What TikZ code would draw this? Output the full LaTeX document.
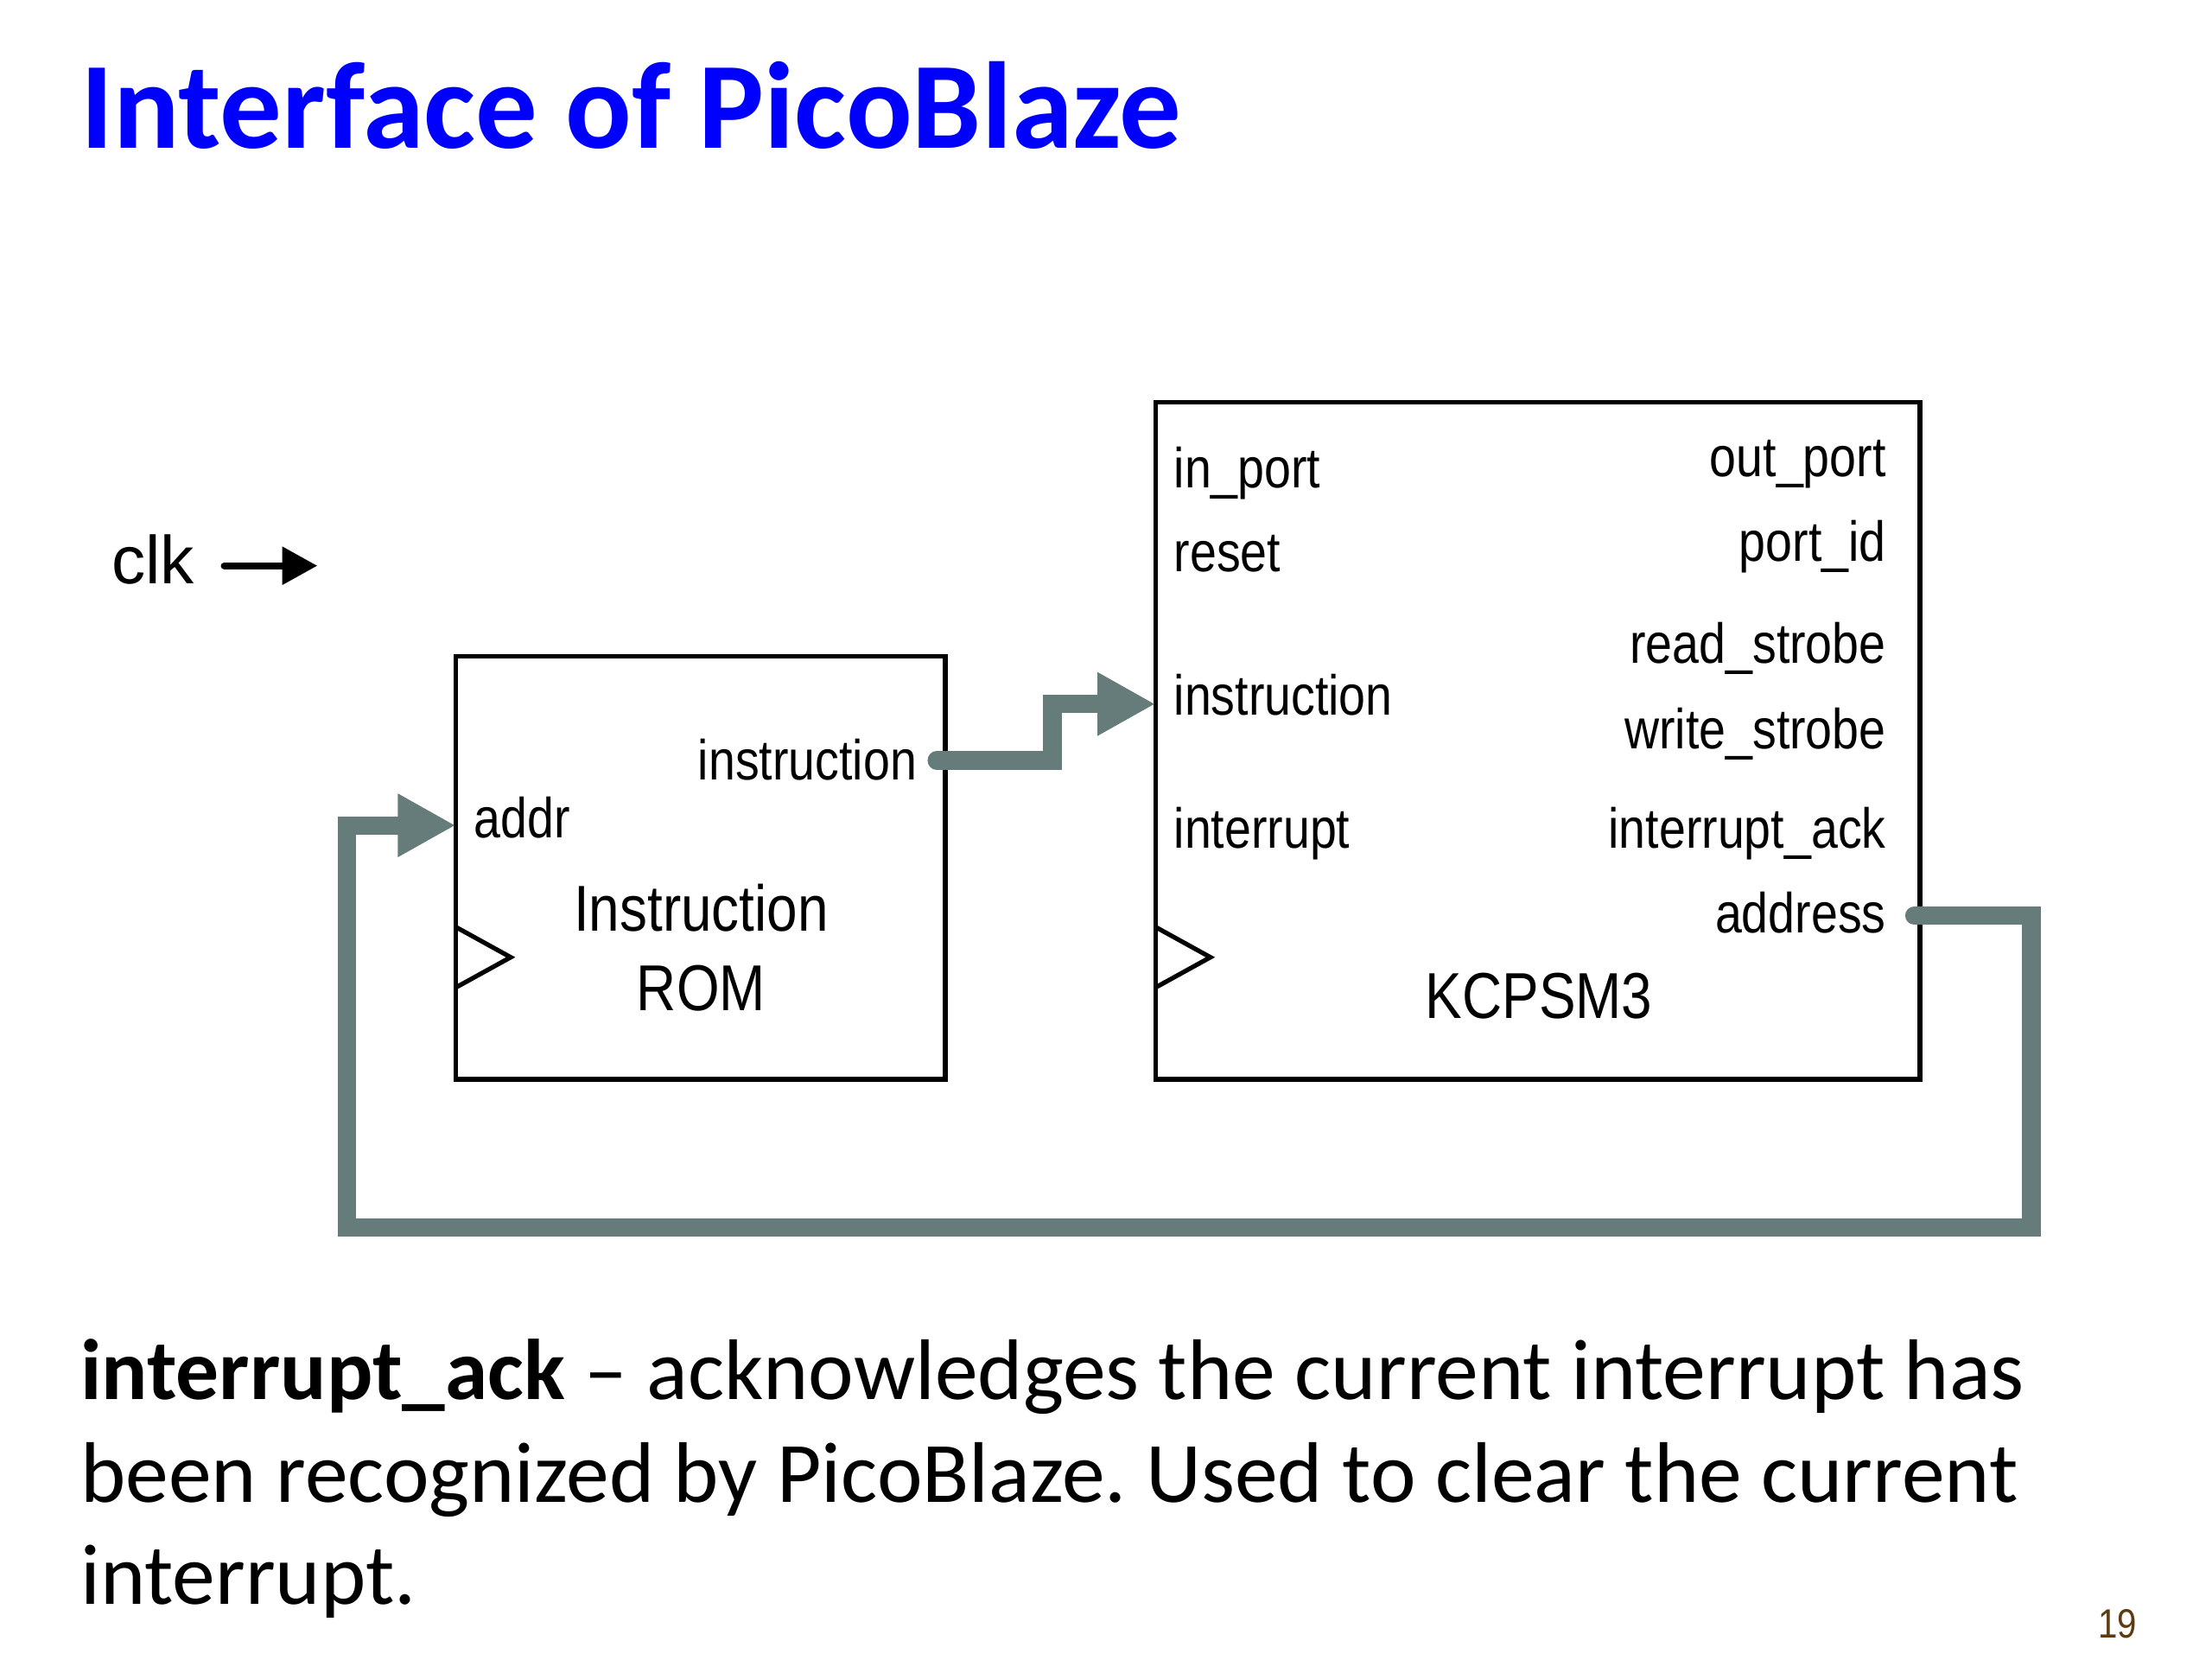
\documentclass[tikz,border=0pt]{standalone}
\usepackage{fontspec}
\setmainfont{Carlito}
\newfontfamily\arialn[FakeStretch=0.85]{Liberation Sans}
\newfontfamily\arialr{Liberation Sans}
\usetikzlibrary{arrows.meta}
\definecolor{wirecol}{RGB}{102,124,122}
\definecolor{titleblue}{RGB}{0,0,255}
\definecolor{pagebrown}{RGB}{92,58,18}
\frenchspacing
\tikzset{
  blk/.style={draw=black, line width=3.2pt, rectangle, inner sep=0pt},
  clockmark/.style={draw=black, line width=3.2pt, line join=miter},
  port/.style={font=\arialn\fontsize{40}{48}\selectfont, inner sep=0pt},
  blkname/.style={font=\arialn\fontsize{46}{54}\selectfont, inner sep=0pt},
  wire/.style={draw=wirecol, line width=13pt, line cap=round, line join=miter,
    -{Triangle[length=41pt,width=42pt]}},
  body/.style={font=\fontsize{61}{73}\selectfont, inner sep=0pt, anchor=base west},
}
\begin{document}
\begin{tikzpicture}[x=1pt,y=-1pt]
\useasboundingbox[fill=white] (0,0) rectangle (1568,1176);

% title
\node[inner sep=0pt, anchor=base west, text=titleblue,
  font=\bfseries\fontsize{87.5}{100}\selectfont] (title) at (57,105) {Interface of PicoBlaze};

% clk
\node[inner sep=0pt, anchor=base west, font=\arialr\fontsize{48}{56}\selectfont] (clk) at (79,414) {clk};
\coordinate (clkA) at (159,401);
\coordinate (clkB) at (225,401);
\draw[line width=5pt, line cap=round, -{Triangle[length=25pt,width=26pt]}] (clkA) -- (clkB);

% blocks
\node[blk, minimum width=347pt, minimum height=300pt] (rom) at (496.5,615) {};
\node[blk, minimum width=542pt, minimum height=480pt] (kc) at (1090,525) {};

% clock marks
\draw[clockmark] (323,657) -- (362,678.5) -- (323,700);
\draw[clockmark] (819,657) -- (858,678.5) -- (819,700);

% ROM labels
\node[port, anchor=base east] (rominstr) at (650,553) {instruction};
\node[port, anchor=base west] (romaddr) at (336,594) {addr};
\node[blkname, anchor=base] (romname1) at (497,660) {Instruction};
\node[blkname, anchor=base] (romname2) at (497,716) {ROM};

% KCPSM3 labels
\node[port, anchor=base west] (inport) at (832,346) {in\_port};
\node[port, anchor=base west] (reset) at (832,405) {reset};
\node[port, anchor=base west] (kcinstr) at (832,507) {instruction};
\node[port, anchor=base west] (intr) at (832,601) {interrupt};
\node[port, anchor=base east] (outport) at (1337,338) {out\_port};
\node[port, anchor=base east] (portid) at (1337,398) {port\_id};
\node[port, anchor=base east] (rstrobe) at (1337,470) {read\_strobe};
\node[port, anchor=base east] (wstrobe) at (1337,531) {write\_strobe};
\node[port, anchor=base east] (intack) at (1337,601) {interrupt\_ack};
\node[port, anchor=base east] (addr) at (1337,661) {address};
\node[blkname, anchor=base] (kcname) at (1091,722) {KCPSM3};

% connectors
\coordinate (romout) at (664,539);
\coordinate (kcin) at (819,499);
\coordinate (kcout) at (1357,649);
\coordinate (romin) at (323,585);
\draw[wire] (romout) -- (746,539) -- (746,499) -- (kcin);
\draw[wire] (kcout) -- (1440,649) -- (1440,870) -- (246,870) -- (246,585) -- (romin);

% body text
\node[body] (line1) at (57,992) {\textbf{interrupt\_ack} – acknowledges the current interrupt has};
\node[body] (line2) at (57,1065) {been recognized by PicoBlaze. Used to clear the current};
\node[body] (line3) at (57,1137) {interrupt.};

% page number
\node[inner sep=0pt, anchor=base west, text=pagebrown, font=\arialn\fontsize{29}{34}\selectfont] (pnum) at (1487,1161) {19};
\end{tikzpicture}
\end{document}
